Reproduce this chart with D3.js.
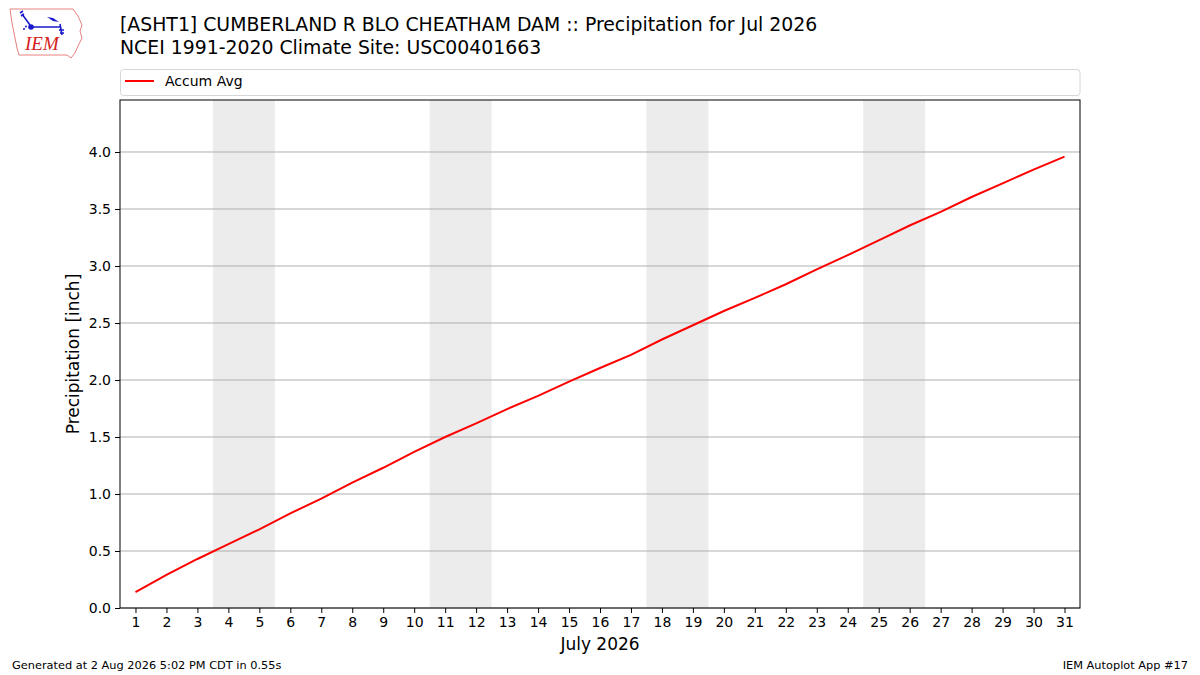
<!DOCTYPE html>
<html>
<head>
<meta charset="utf-8">
<script src="https://cdn.jsdelivr.net/npm/d3@7"></script>
<style>
  body { margin: 0; background: #fff; }
  svg { display: block; font-family: "DejaVu Sans", sans-serif; }
</style>
</head>
<body>
<svg id="chart" width="1200" height="675"></svg>
<script>
// ---- Data ----
const days = d3.range(1, 32);
const accumAvg = [
  0.14, 0.29, 0.43, 0.56, 0.69, 0.83, 0.96, 1.10, 1.23, 1.37,
  1.50, 1.62, 1.745, 1.86, 1.985, 2.105, 2.22, 2.355, 2.48, 2.605,
  2.72, 2.84, 2.97, 3.095, 3.225, 3.355, 3.475, 3.605, 3.725, 3.845,
  3.96
];
const weekendStarts = [4, 11, 18, 25];   // Sat of each weekend, Jul 2026
const yTicks = [0, 0.5, 1.0, 1.5, 2.0, 2.5, 3.0, 3.5, 4.0];

const titleLines = [
  "[ASHT1] CUMBERLAND R BLO CHEATHAM DAM :: Precipitation for Jul 2026",
  "NCEI 1991-2020 Climate Site: USC00401663"
];

// ---- Layout ----
const margin = { top: 100, right: 120, bottom: 67, left: 120 };
const W = 1200, H = 675;
const width = W - margin.left - margin.right;
const height = H - margin.top - margin.bottom;

const svg = d3.select("#chart");
const g = svg.append("g").attr("transform", `translate(${margin.left},${margin.top})`);

// ---- Scales ----
const x = d3.scaleLinear().domain([0.5, 31.5]).range([0, width]);
const y = d3.scaleLinear().domain([0, 4.456]).range([height, 0]);

// ---- Weekend shading ----
g.selectAll("rect.wkend")
  .data(weekendStarts)
  .join("rect")
  .attr("class", "wkend")
  .attr("x", d => x(d - 0.5))
  .attr("width", d => x(d + 1.5) - x(d - 0.5))
  .attr("y", 0)
  .attr("height", height)
  .attr("fill", "#ececec");

// ---- Grid ----
g.selectAll("line.grid")
  .data(yTicks)
  .join("line")
  .attr("class", "grid")
  .attr("x1", 0).attr("x2", width)
  .attr("y1", d => y(d)).attr("y2", d => y(d))
  .attr("stroke", "#b0b0b0")
  .attr("stroke-width", 1);

// ---- Line ----
const line = d3.line()
  .x((d, i) => x(days[i]))
  .y(d => y(d));

g.append("path")
  .datum(accumAvg)
  .attr("d", line)
  .attr("fill", "none")
  .attr("stroke", "#ff0000")
  .attr("stroke-width", 2);

// ---- Frame ----
g.append("rect")
  .attr("width", width).attr("height", height)
  .attr("fill", "none").attr("stroke", "#000").attr("stroke-width", 1);

// ---- Axes ----
const xAxis = g.append("g")
  .attr("transform", `translate(0,${height})`)
  .call(d3.axisBottom(x).tickValues(days).tickFormat(d3.format("d")).tickSize(5).tickPadding(4));
const yAxis = g.append("g")
  .call(d3.axisLeft(y).tickValues(yTicks).tickFormat(d3.format(".1f")).tickSize(5).tickPadding(4));

[xAxis, yAxis].forEach(a => {
  a.select(".domain").remove();
  a.selectAll("line").attr("stroke", "#000");
  a.selectAll("text").attr("font-size", 14).attr("fill", "#000")
    .attr("font-family", "DejaVu Sans, sans-serif");
});

svg.append("text")
  .attr("x", margin.left + width / 2).attr("y", 650)
  .attr("text-anchor", "middle").attr("font-size", 17)
  .text("July 2026");

svg.append("text")
  .attr("transform", `translate(79,${margin.top + height / 2}) rotate(-90)`)
  .attr("text-anchor", "middle").attr("font-size", 17)
  .text("Precipitation [inch]");

// ---- Title ----
svg.selectAll("text.title")
  .data(titleLines)
  .join("text")
  .attr("class", "title")
  .attr("x", 120)
  .attr("y", (d, i) => 31 + i * 23)
  .attr("font-size", 18.85)
  .text(d => d);

// ---- Legend ----
const leg = svg.append("g");
leg.append("rect")
  .attr("x", 120.5).attr("y", 69.5).attr("width", 959.5).attr("height", 26)
  .attr("rx", 3).attr("fill", "#fff").attr("stroke", "#d6d6d6");
leg.append("line")
  .attr("x1", 125).attr("x2", 154).attr("y1", 81).attr("y2", 81)
  .attr("stroke", "#ff0000").attr("stroke-width", 2);
leg.append("text")
  .attr("x", 165).attr("y", 86).attr("font-size", 14).text("Accum Avg");

// ---- Footer ----
svg.append("text")
  .attr("x", 12).attr("y", 669).attr("font-size", 11.35)
  .text("Generated at 2 Aug 2026 5:02 PM CDT in 0.55s");
svg.append("text")
  .attr("x", 1188).attr("y", 669).attr("font-size", 11.35).attr("text-anchor", "end")
  .text("IEM Autoplot App #17");

// ---- Logo (simplified IEM mark) ----
const logo = svg.append("g").attr("transform", "translate(5,3)");
logo.append("path")
  .attr("d", "M5,6 L68,6 L73,13 L77,22 L75,28 L77,35 L73,43 L70,50 L66,55 L62,52 L14,52 L12,45 L10,35 L7,20 Z")
  .attr("fill", "#fff").attr("stroke", "#e88080").attr("stroke-width", 1);
logo.append("path")
  .attr("d", "M24,24 L56,24 M17,11 L25,22 M15,10 L18,8 M16,13 L19,11 M55,21 L57,32 M54,27 L59,27 M55,30 L59,30")
  .attr("stroke", "#1a1acc").attr("stroke-width", 1.6).attr("fill", "none");
logo.append("circle").attr("cx", 26).attr("cy", 24).attr("r", 2.8).attr("fill", "#1a1acc");
logo.append("circle").attr("cx", 19).attr("cy", 26).attr("r", 1).attr("fill", "#1a1acc");
logo.append("circle").attr("cx", 21).attr("cy", 23.5).attr("r", 1).attr("fill", "#1a1acc");
logo.append("path").attr("d", "M42,14 L48,15 L54,19 L48,18 Z").attr("fill", "#1a1acc");
logo.append("text")
  .attr("x", 20).attr("y", 47).attr("font-family", "Liberation Serif, serif")
  .attr("font-style", "italic").attr("font-size", 19).attr("fill", "#d42020")
  .text("IEM");
</script>
</body>
</html>
